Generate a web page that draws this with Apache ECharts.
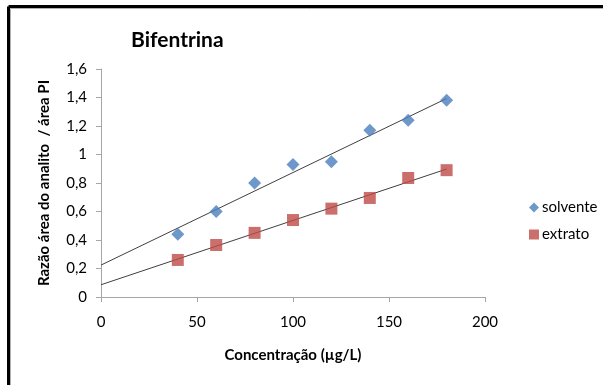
<!DOCTYPE html>
<html>
<head>
<meta charset="utf-8">
<script src="https://cdn.jsdelivr.net/npm/echarts@6/dist/echarts.min.js"></script>
<style>
  html, body { margin: 0; padding: 0; background: #fff; }
  #chart { width: 603px; height: 385px; }
</style>
</head>
<body>
<div id="chart"></div>
<script>
const concentracoes = [40, 60, 80, 100, 120, 140, 160, 180]
const solvente = [0.44, 0.60, 0.80, 0.93, 0.95, 1.17, 1.24, 1.38]
const extrato = [0.26, 0.365, 0.45, 0.54, 0.62, 0.695, 0.835, 0.89]
// linhas de tendência (x, y nas extremidades)
const tendenciaSolvente = [[0, 0.224], [180, 1.393]]
const tendenciaExtrato = [[0, 0.086], [180, 0.898]]
const xTicks = [0, 50, 100, 150, 200]
const yTicks = [0, 0.2, 0.4, 0.6, 0.8, 1, 1.2, 1.4, 1.6]

const fonte = 'Lato, "Open Sans", sans-serif'
const pares = (ys) => concentracoes.map((x, i) => [x, ys[i]])

const chart = echarts.init(document.getElementById('chart'))

const option = {
  backgroundColor: '#fff',
  animation: false,
  textStyle: { fontFamily: fonte },
  title: {
    text: 'Bifentrina',
    left: 126,
    top: 25,
    textStyle: { fontSize: 21, fontWeight: 'bold', color: '#000', fontFamily: fonte }
  },
  graphic: [
    { type: 'line', shape: { x1: 8.5, y1: 6.5, x2: 603, y2: 6.5 }, style: { stroke: '#000', lineWidth: 3 } },
    { type: 'line', shape: { x1: 8.5, y1: 6.5, x2: 8.5, y2: 385 }, style: { stroke: '#000', lineWidth: 3 } },
    { type: 'line', shape: { x1: 10.5, y1: 8.5, x2: 603, y2: 8.5 }, style: { stroke: '#b0b0b0', lineWidth: 1 } },
    { type: 'line', shape: { x1: 10.5, y1: 8.5, x2: 10.5, y2: 385 }, style: { stroke: '#b0b0b0', lineWidth: 1 } }
  ],
  legend: {
    orient: 'vertical',
    left: 524,
    top: 195,
    itemGap: 12,
    itemWidth: 10,
    itemHeight: 10,
    textStyle: { fontSize: 15, color: '#000', fontFamily: fonte, padding: [0, 0, 0, -2] },
    data: [
      { name: 'solvente', icon: 'diamond' },
      { name: 'extrato', icon: 'rect' }
    ]
  },
  grid: { left: 101, right: 118, top: 69, bottom: 88 },
  xAxis: {
    type: 'value',
    min: 0,
    max: 200,
    interval: 50,
    name: 'Concentração (µg/L)',
    nameLocation: 'middle',
    nameGap: 51,
    nameTextStyle: { fontSize: 15, fontWeight: 'bold', color: '#000', fontFamily: fonte },
    axisLine: { lineStyle: { color: '#a6a6a6' } },
    axisTick: { show: true, length: 5, lineStyle: { color: '#a6a6a6' } },
    axisLabel: {
      margin: 18, fontSize: 15, color: '#000',
      formatter: (v) => xTicks.includes(v) ? String(v) : ''
    },
    splitLine: { show: false }
  },
  yAxis: {
    type: 'value',
    min: 0,
    max: 1.6,
    interval: 0.2,
    name: 'Razão área do analito  / área PI',
    nameLocation: 'middle',
    nameGap: 49,
    nameTextStyle: { fontSize: 15, fontWeight: 'bold', color: '#000', fontFamily: fonte },
    axisLine: { show: true, lineStyle: { color: '#a6a6a6' } },
    axisTick: { show: true, length: 5, lineStyle: { color: '#a6a6a6' } },
    axisLabel: {
      margin: 14, fontSize: 15, color: '#000',
      formatter: (v) => {
        const t = yTicks.find(k => Math.abs(k - v) < 1e-9)
        return t === undefined ? '' : String(t).replace('.', ',')
      }
    },
    splitLine: { show: false }
  },
  series: [
    {
      name: 'tendência solvente',
      type: 'line',
      data: tendenciaSolvente,
      showSymbol: false,
      silent: true,
      lineStyle: { color: '#404040', width: 1 },
      z: 1
    },
    {
      name: 'tendência extrato',
      type: 'line',
      data: tendenciaExtrato,
      showSymbol: false,
      silent: true,
      lineStyle: { color: '#404040', width: 1 },
      z: 1
    },
    {
      name: 'solvente',
      type: 'scatter',
      symbol: 'diamond',
      symbolSize: 13,
      data: pares(solvente),
      itemStyle: { color: '#4a7ebb' },
      z: 3
    },
    {
      name: 'extrato',
      type: 'scatter',
      symbol: 'rect',
      symbolSize: 12,
      data: pares(extrato),
      itemStyle: { color: '#be4b48' },
      z: 3
    }
  ]
}

chart.setOption(option)
</script>
</body>
</html>
